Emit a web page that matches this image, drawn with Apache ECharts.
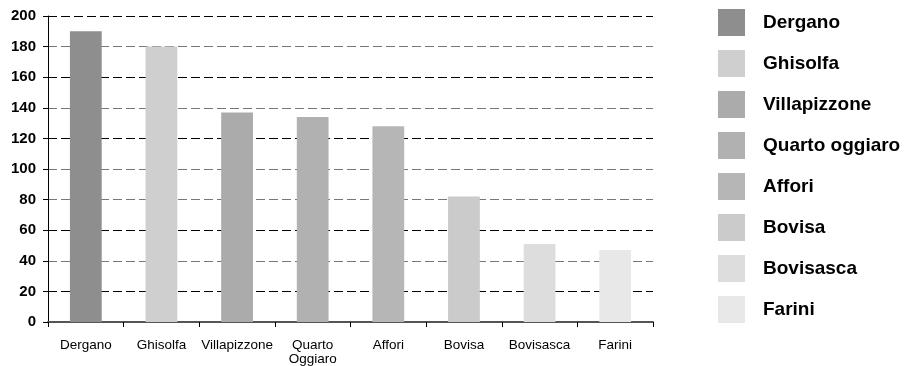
<!DOCTYPE html>
<html>
<head>
<meta charset="utf-8">
<script src="https://cdn.jsdelivr.net/npm/echarts@6/dist/echarts.min.js"></script>
<style>
  html, body { margin: 0; padding: 0; background: #fff; }
  #chart { width: 911px; height: 366px; }
</style>
</head>
<body>
<div id="chart"></div>
<script>
// Neighbourhoods (axis labels and legend names) and their values
const categories = ['Dergano', 'Ghisolfa', 'Villapizzone', 'Quarto\nOggiaro', 'Affori', 'Bovisa', 'Bovisasca', 'Farini'];
const seriesNames = ['Dergano', 'Ghisolfa', 'Villapizzone', 'Quarto oggiaro', 'Affori', 'Bovisa', 'Bovisasca', 'Farini'];
const values = [190, 180, 137, 134, 128, 82, 51, 47];
const yTicks = [0, 20, 40, 60, 80, 100, 120, 140, 160, 180, 200];

// One grey per neighbourhood
const palette = ['#8e8e8e', '#cfcfcf', '#ababab', '#b1b1b1', '#b6b6b6', '#cbcbcb', '#dddddd', '#e8e8e8'];
// Dashed grid lines alternate between black and mid grey
const gridColors = ['#000', '#000', '#777', '#000', '#777', '#777', '#000', '#777', '#000', '#777', '#000'];

const FONT = '"Liberation Sans", Arial, Helvetica, sans-serif';

// Each neighbourhood is its own series so it gets a legend entry;
// stacking keeps every bar centred in its own category band.
const series = seriesNames.map((name, i) => ({
  name: name,
  type: 'bar',
  stack: 'all',
  barWidth: '42%',
  itemStyle: { color: palette[i] },
  data: values.map((v, j) => (j === i ? v : '-'))
}));

const chart = echarts.init(document.getElementById('chart'), null, { renderer: 'canvas' });
chart.setOption({
  animation: false,
  backgroundColor: '#fff',
  color: palette,
  grid: { left: 48, right: 258, top: 16, bottom: 44, containLabel: false },
  legend: {
    orient: 'vertical',
    left: 713,
    top: 4,
    itemWidth: 27,
    itemHeight: 27,
    itemGap: 14,
    icon: 'rect',
    selectedMode: false,
    data: seriesNames,
    textStyle: {
      fontFamily: FONT,
      fontWeight: 'bold',
      fontSize: 19,
      color: '#000',
      padding: [0, 0, 0, 13]
    }
  },
  xAxis: {
    type: 'category',
    data: categories,
    axisLine: { show: true, lineStyle: { color: '#555', width: 2 } },
    axisTick: { show: true, inside: false, length: 5, alignWithLabel: false, lineStyle: { color: '#000', width: 1 } },
    axisLabel: {
      margin: 16,
      fontFamily: FONT,
      fontSize: 13.5,
      color: '#000',
      lineHeight: 14,
      interval: 0
    },
    splitLine: { show: false }
  },
  yAxis: {
    type: 'value',
    min: yTicks[0],
    max: yTicks[yTicks.length - 1],
    interval: yTicks[1] - yTicks[0],
    axisLine: { show: true, lineStyle: { color: '#000', width: 1 } },
    axisTick: { show: true, inside: false, length: 5, lineStyle: { color: '#000', width: 1 } },
    axisLabel: {
      margin: 12,
      fontFamily: FONT,
      fontSize: 15,
      fontWeight: 'bold',
      color: '#000'
    },
    splitLine: {
      show: true,
      lineStyle: { color: gridColors, width: 1, type: [9, 4] }
    }
  },
  series: series
});
</script>
</body>
</html>
